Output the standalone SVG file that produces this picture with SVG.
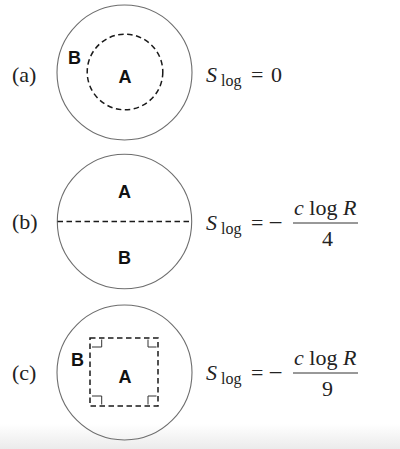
<svg xmlns="http://www.w3.org/2000/svg" width="400" height="449" viewBox="0 0 400 449">
<defs>
<linearGradient id="bg" x1="0" y1="0" x2="0" y2="1">
<stop offset="0" stop-color="#ffffff"/>
<stop offset="1" stop-color="#ebebeb"/>
</linearGradient>
<style>
.outer{fill:none;stroke:#6e6e6e;stroke-width:1.1}
.dash{fill:none;stroke:#1a1a1a;stroke-width:1.5;stroke-dasharray:5.5 3.5}
.tick{fill:none;stroke:#333;stroke-width:1}
.lbl{font-family:"Liberation Sans",Arial,sans-serif;font-weight:bold;font-size:18px;fill:#111;text-anchor:middle}
.ser{font-family:"Liberation Serif","Times New Roman",serif;font-size:22px;fill:#222}
.it{font-style:italic}
.sub{font-family:"Liberation Serif","Times New Roman",serif;font-size:16px;fill:#222}
.minus{font-family:"Liberation Serif","Times New Roman",serif;font-size:25px;fill:#222}
.bar{stroke:#333;stroke-width:1}
</style>
</defs>
<rect x="0" y="0" width="400" height="449" fill="#fff"/>
<rect x="0" y="424" width="400" height="25" fill="url(#bg)"/>

<g id="panel-a">
<text class="ser" x="12" y="82">(a)</text>
<circle class="outer" cx="124.5" cy="72.5" r="67.5"/>
<circle class="dash" cx="125" cy="72" r="37.8"/>
<text class="lbl" x="74.5" y="63.5">B</text>
<text class="lbl" x="125" y="82.5">A</text>
<g id="eq-a">
<text class="ser it" x="206" y="82">S</text>
<text class="sub" x="221" y="86">log</text>
<text class="ser" x="251" y="82">=</text>
<text class="ser" x="271" y="82">0</text>
</g>
</g>

<g id="panel-b">
<text class="ser" x="12" y="229">(b)</text>
<circle class="outer" cx="124.5" cy="221.5" r="67.2"/>
<line class="dash" x1="57.5" y1="221.5" x2="191.5" y2="221.5"/>
<text class="lbl" x="124.5" y="197.5">A</text>
<text class="lbl" x="124.5" y="264">B</text>
<g id="eq-b">
<text class="ser it" x="206" y="230">S</text>
<text class="sub" x="221" y="234">log</text>
<text class="ser" x="251" y="230">=</text>
<text class="minus" x="268.5" y="231">−</text>
<line class="bar" x1="293" y1="223" x2="358" y2="223"/>
<text class="ser" x="294" y="215"><tspan class="it">c</tspan> log <tspan class="it">R</tspan></text>
<text class="ser" x="327.5" y="245.5" text-anchor="middle">4</text>
</g>
</g>

<g id="panel-c">
<text class="ser" x="12" y="380">(c)</text>
<circle class="outer" cx="124.5" cy="372.5" r="67.5"/>
<rect class="dash" x="90" y="338" width="68" height="68"/>
<path class="tick" d="M92 347H101.7V339.5M148 339.5V347H156.5M92 396H101.7V404.5M148 404.5V396H156.5"/>
<text class="lbl" x="77.5" y="365.5">B</text>
<text class="lbl" x="125" y="383">A</text>
<g id="eq-c">
<text class="ser it" x="206" y="380">S</text>
<text class="sub" x="221" y="384">log</text>
<text class="ser" x="251" y="380">=</text>
<text class="minus" x="268.5" y="381">−</text>
<line class="bar" x1="293" y1="373" x2="358" y2="373"/>
<text class="ser" x="294" y="365"><tspan class="it">c</tspan> log <tspan class="it">R</tspan></text>
<text class="ser" x="327.5" y="395.5" text-anchor="middle">9</text>
</g>
</g>
</svg>
